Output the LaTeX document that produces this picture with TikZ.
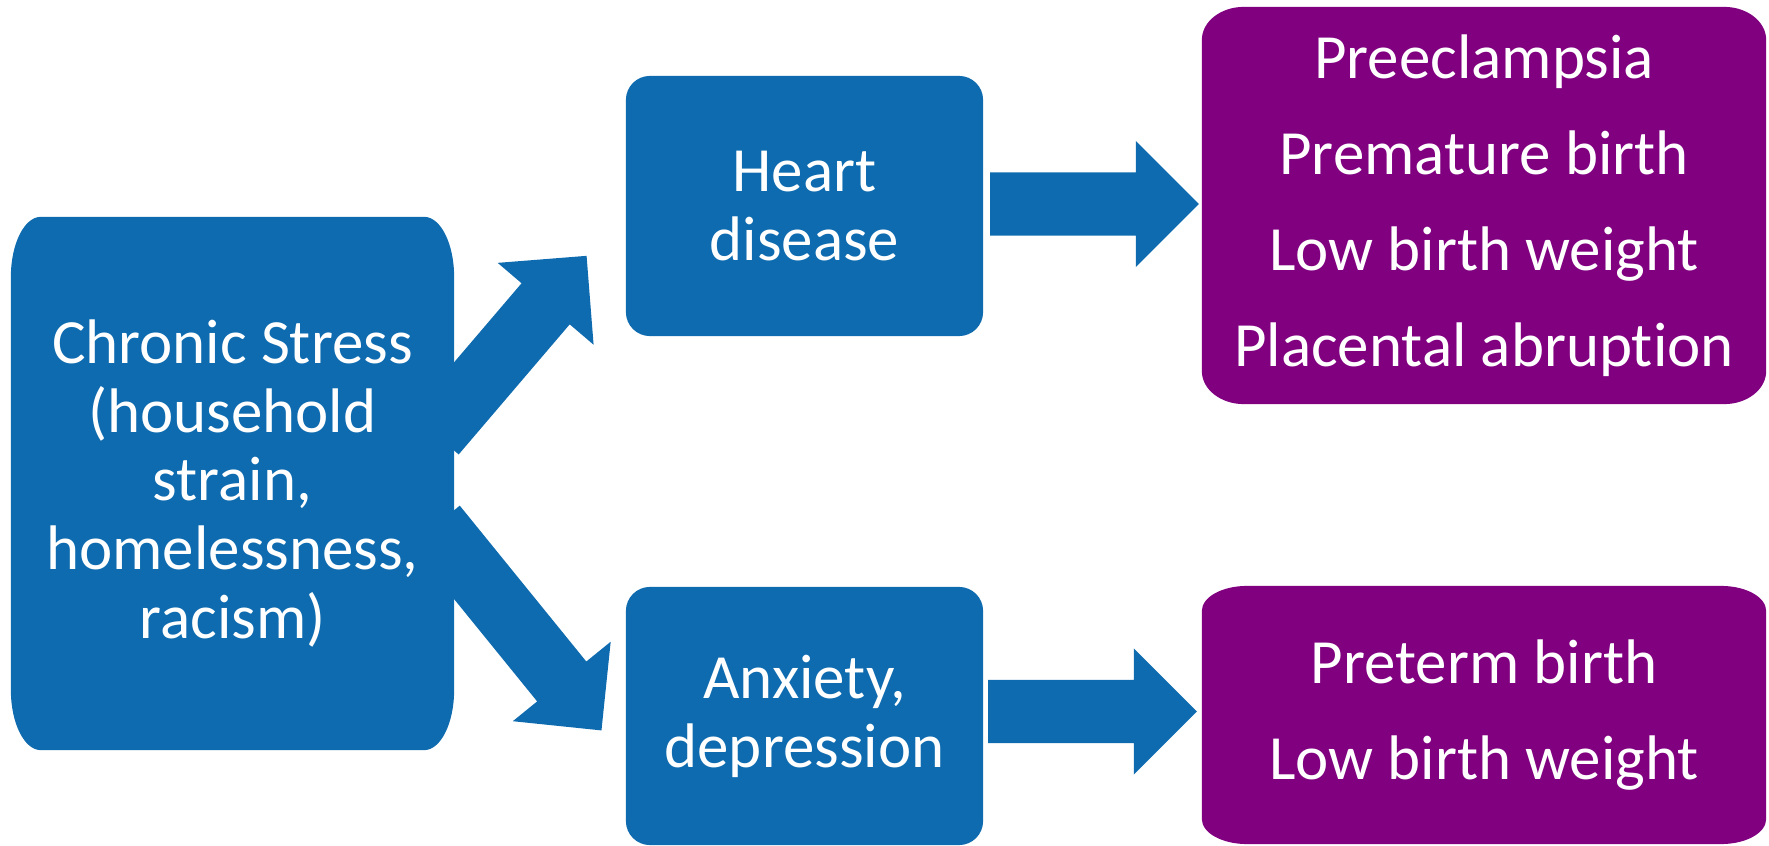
\documentclass[tikz,border=0pt]{standalone}
\usepackage{fontspec}
\setmainfont{Carlito}[RawFeature=-liga, RawFeature=-clig, RawFeature=-calt, RawFeature=-dlig]
\usetikzlibrary{calc, backgrounds}

\definecolor{boxblue}{RGB}{14,107,175}
\definecolor{boxpurple}{RGB}{128,0,128}

\tikzset{
  cause/.style={inner sep=0pt, outer sep=0pt, text=white, align=center,
    font=\fontsize{17.9}{19.6}\selectfont},
  outcome/.style={cause, font=\fontsize{17.9}{27.3}\selectfont},
  arrowfill/.style={fill=boxblue}
}

% box with elliptic corners: node, colour, x radius, y radius
\newcommand{\softbox}[4]{%
  \fill[#2] ([xshift=#3]#1.north west) -- ([xshift=-#3]#1.north east)
    arc[start angle=90, end angle=0, x radius=#3, y radius=#4] -- ([yshift=#4]#1.south east)
    arc[start angle=0, end angle=-90, x radius=#3, y radius=#4] -- ([xshift=#3]#1.south west)
    arc[start angle=270, end angle=180, x radius=#3, y radius=#4] -- ([yshift=-#4]#1.north west)
    arc[start angle=180, end angle=90, x radius=#3, y radius=#4] -- cycle;}

% block arrow from #1 to #2
\newcommand{\fatarrow}[2]{%
  \fill[arrowfill] let \p1=(#1), \p2=(#2),
    \n1={atan2(\y2-\y1,\x2-\x1)},
    \n2={veclen(\x2-\x1,\y2-\y1)},
    \n3={\n2-17.93pt}
  in [shift={(\p1)}, rotate=\n1]
    (0pt,-9.0pt) -- (\n3,-9.0pt) -- (\n3,-17.93pt) -- (\n2,0pt)
    -- (\n3,17.93pt) -- (\n3,9.0pt) -- (0pt,9.0pt) -- cycle;}

\begin{document}
\begin{tikzpicture}[x=0.01cm, y=-0.01cm]

\useasboundingbox (0,0) rectangle (1769,846);

\node[cause, minimum width=4.43cm, minimum height=5.33cm] (stress) at (232.5,483.5)
  {Chronic Stress\\(household\\strain,\\homelessness,\\racism)};

\node[cause, minimum width=3.57cm, minimum height=2.60cm] (heart) at (804.5,206) {Heart\\disease};
\node[cause, minimum width=3.57cm, minimum height=2.58cm] (anxiety) at (804.5,716) {Anxiety,\\depression};

\node[outcome, minimum width=5.64cm, minimum height=3.97cm] (pregA) at (1484,205.5)
  {Preeclampsia\\Premature birth\\Low birth weight\\Placental abruption};
\node[outcome, minimum width=5.64cm, minimum height=2.58cm] (pregB) at (1484,715)
  {Preterm birth\\Low birth weight};

\coordinate (upfrom) at (434.6,433.9);
\coordinate (upto) at (586.7,255.7);
\coordinate (downfrom) at (435.2,525.6);
\coordinate (downto) at (601.7,730.7);

\begin{pgfonlayer}{background}
\fatarrow{upfrom}{upto}
\fatarrow{downfrom}{downto}
\fatarrow{[xshift=0.07cm, yshift=0.02cm]heart.east}{[xshift=-0.03cm, yshift=0.015cm]pregA.west}
\fatarrow{[xshift=0.05cm, yshift=0.045cm]anxiety.east}{[xshift=-0.05cm, yshift=0.035cm]pregB.west}

\softbox{stress}{boxblue}{0.30cm}{0.60cm}
\softbox{heart}{boxblue}{0.24cm}{0.24cm}
\softbox{anxiety}{boxblue}{0.24cm}{0.24cm}
\softbox{pregA}{boxpurple}{0.42cm}{0.33cm}
\softbox{pregB}{boxpurple}{0.45cm}{0.25cm}
\end{pgfonlayer}

\end{tikzpicture}
\end{document}
